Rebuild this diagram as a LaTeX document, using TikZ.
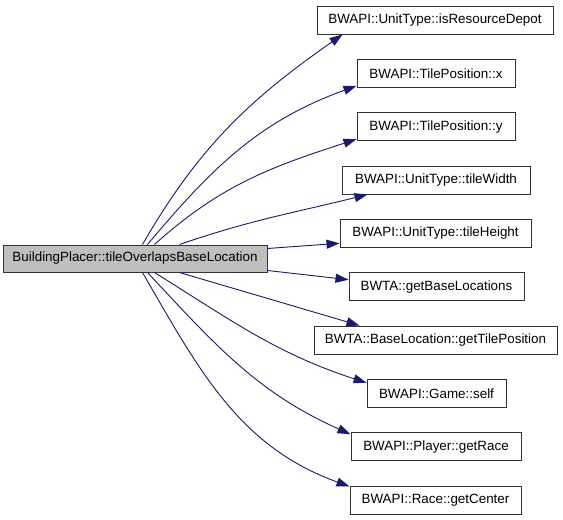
\documentclass[tikz,border=0pt]{standalone}
\usepackage{fontspec}
\setmainfont{Liberation Sans}
\usepackage{tikz}
\usetikzlibrary{arrows.meta}
\definecolor{edgeblue}{RGB}{25,25,112}
\definecolor{rootgray}{RGB}{191,191,191}
\tikzset{
  callarrow/.style={-{Triangle[length=13pt,width=9pt]}, edgeblue, line width=0.9pt},
  rootbox/.style={draw=black!80, fill=rootgray, line width=1pt, minimum height=27pt, inner xsep=4pt, align=center},
  funcbox/.style={draw=black!80, fill=white, line width=1pt, minimum height=28pt, inner xsep=4pt, align=center}
}

\begin{document}
\begin{tikzpicture}[x=1pt, y=1pt, every node/.style={font=\fontsize{13.4}{16}\selectfont}]
      \useasboundingbox (0,0) rectangle (563,-520);
      \node[rootbox, minimum width=264pt] (src) at (135,-258.5) {BuildingPlacer::tileOverlapsBaseLocation};
      \node[funcbox, minimum width=236pt] (depot) at (435,-20) {BWAPI::UnitType::isResourceDepot};
      \node[funcbox, minimum width=158pt] (tilex) at (436,-73.3) {BWAPI::TilePosition::x};
      \node[funcbox, minimum width=158pt] (tiley) at (436,-126.7) {BWAPI::TilePosition::y};
      \node[funcbox, minimum width=188pt] (twidth) at (436,-180) {BWAPI::UnitType::tileWidth};
      \node[funcbox, minimum width=191pt] (theight) at (435.5,-233.3) {BWAPI::UnitType::tileHeight};
      \node[funcbox, minimum width=175pt] (baselocs) at (436.5,-286.7) {BWTA::getBaseLocations};
      \node[funcbox, minimum width=243pt] (tilepos) at (435.5,-340) {BWTA::BaseLocation::getTilePosition};
      \node[funcbox, minimum width=139pt] (gameself) at (436.5,-393.3) {BWAPI::Game::self};
      \node[funcbox, minimum width=170pt] (getrace) at (436,-446.7) {BWAPI::Player::getRace};
      \node[funcbox, minimum width=171pt] (getcenter) at (435.5,-500) {BWAPI::Race::getCenter};
      \draw[callarrow] ([xshift=140pt]src.north west) to[out=60, in=215] ([xshift=26pt]depot.south west);
      \draw[callarrow] ([xshift=145pt]src.north west) to[out=50, in=200] ([yshift=2pt]tilex.south west);
      \draw[callarrow] ([xshift=152pt]src.north west) to[out=42, in=198] ([yshift=2pt]tiley.south west);
      \draw[callarrow] ([xshift=177pt]src.north west) to[out=19, in=194] ([xshift=26pt]twidth.south west);
      \draw[callarrow] ([yshift=10pt]src.east) -- ([yshift=-10pt]theight.west);
      \draw[callarrow] ([yshift=-12pt]src.east) -- ([yshift=7pt]baselocs.west);
      \draw[callarrow] ([xshift=177pt]src.south west) -- ([xshift=46pt]tilepos.north west);
      \draw[callarrow] ([xshift=152pt]src.south west) to[out=-32, in=162] ([yshift=-4pt]gameself.north west);
      \draw[callarrow] ([xshift=145pt]src.south west) to[out=-47, in=156] ([yshift=-2pt]getrace.north west);
      \draw[callarrow] ([xshift=140pt]src.south west) to[out=-60, in=160] ([yshift=-1pt]getcenter.north west);
    \end{tikzpicture}
\end{document}
